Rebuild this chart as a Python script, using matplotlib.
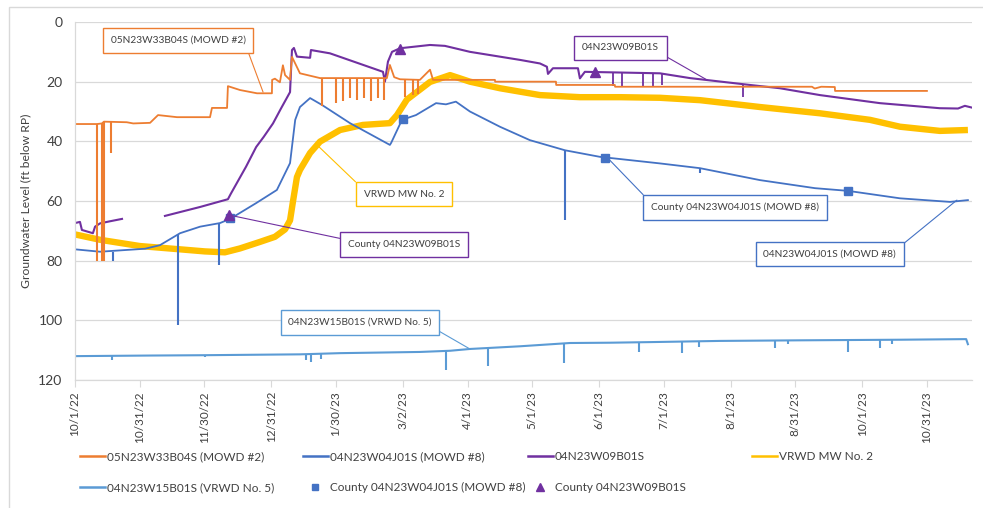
import numpy as np
import matplotlib
matplotlib.use("Agg")
import matplotlib.pyplot as plt
import matplotlib.dates as mdates
from matplotlib.patches import Rectangle
from matplotlib.lines import Line2D

plt.rcParams['font.family'] = ['Lato', 'DejaVu Sans']

# ----------------------------
# DATA  (days since 10/1/22, depth in ft below RP)
# ----------------------------
start = np.datetime64('2022-10-01')

mowd2_days = [0, 10.2, 12.5, 13.4, 24, 27, 34.8, 38.5, 47.3, 62.6, 63.5, 70.5, 70.9, 76.5, 84.4,
              91.3, 91.4, 92.7, 95, 96.4, 97.4, 99.7, 100.6, 102.5, 104.3, 113.6, 144.6, 146,
              148, 150.7, 159.9, 164.6, 166, 194.7, 194.8, 223, 223.1, 250.3, 250.4, 341.7,
              343, 346, 352.3, 352.4, 395]
mowd2_vals = [34.2, 34.2, 34.0, 33.4, 33.6, 34.0, 33.8, 31.2, 31.9, 31.9, 28.8, 28.8, 21.5, 22.8, 23.9,
              23.9, 19.4, 19.0, 20.2, 14.5, 17.8, 19.4, 11.7, 14.5, 17.2, 18.8, 18.8, 14.4,
              18.5, 19.2, 19.4, 16.0, 19.4, 19.4, 20.0, 20.0, 21.1, 21.1, 21.7, 21.7,
              22.3, 21.7, 21.8, 23.1, 23.1]
mowd2_spike_days = [10.4, 12.6, 13.3, 16.7, 114.5, 121, 124.2, 127.5, 130.7, 134, 137.2, 140.5,
                    143.3, 153, 156.7, 159]
mowd2_spike_tops = [34.2, 34.0, 33.4, 33.4, 18.8, 18.8, 18.8, 18.8, 18.8, 18.8, 18.8, 18.8,
                    18.8, 19.2, 19.3, 19.4]
mowd2_spike_bots = [80, 80, 80, 44, 28, 27, 26.5, 25.6, 26.1, 25.6, 26.5, 25.6,
                    26.1, 25, 24.5, 24]

w09_days = [0, 2.3, 3.2, 8.3, 9.3, 11.6, 16.2, 21.8, np.nan,
            41.7, 58, 70.9, 72.3, 79.3, 84, 87.5, 91.8, 95.5, 99.7, 100.6, 101.5, 102.9,
            109, 109.4, 118.2, 142.8, 143.7, 145.1, 147, 150.7, 164.6, 171.5, 183.1, 206.3,
            215.6, 218.8, 219.3, 221.6, 233.2, 234.1, 236.4, 271.2, 285.1, 312.9, 326.8,
            345.4, 373.2, 401, 409.4, 412.6, 415.9]
w09_vals = [67.4, 67.0, 69.7, 70.8, 68.6, 67.5, 66.8, 66.0, np.nan,
            65.0, 62.0, 59.4, 57.5, 48.5, 41.9, 38.5, 34.0, 29.0, 23.5, 9.4, 8.7, 11.6,
            12.0, 9.4, 10.5, 16.7, 20.0, 13.3, 10.0, 8.8, 7.7, 8.0, 10.0, 12.7,
            13.9, 15.0, 17.4, 15.5, 15.5, 18.9, 16.7, 17.2, 18.8, 21.1, 22.2,
            24.5, 27.2, 28.9, 29.0, 28.1, 28.7]
w09_spike_days = [249.4, 253.6, 263.3, 268, 272.1, 309.7]
w09_spike_tops = [17.0, 17.0, 17.1, 17.1, 17.2, 21.0]
w09_spike_bots = [21.5, 21.8, 21.5, 21.8, 21.2, 25.0]

mowd8_days = [0, 11.6, 32.5, 39.4, 48.7, 58, 67.2, 71.9, 84, 93.6, 99.7, 102.1, 104.3, 109,
              114.5, 127.5, 146, 146.6, 151.6, 158.1, 167.4, 172, 176.6, 183.1, 197, 210.9,
              227.2, 243.4, 271.2, 289.8, 317.6, 343.1, 358.4, 382.5, 405.7, 414]
mowd8_vals = [76.2, 77.0, 76.0, 74.8, 70.8, 68.6, 67.4, 66.0, 60.7, 56.3, 47.3, 32.8, 28.5, 25.5,
              27.8, 33.9, 41.2, 40.5, 32.8, 31.2, 27.2, 27.6, 26.7, 30.0, 35.1, 39.6,
              43.0, 45.2, 47.4, 49.0, 53.0, 55.7, 56.6, 59.1, 60.3, 59.7]
mowd8_spike_days = [17.6, 47.8, 66.8, 227.2, 290]
mowd8_spike_tops = [77.0, 71.0, 67.4, 43.0, 49.0]
mowd8_spike_bots = [80.0, 101.6, 81.5, 66.4, 50.5]

mw2_days = [0, 11.6, 30.1, 48.7, 60.3, 69.5, 76.5, 85.8, 92.7, 97.4, 99.7, 101.1, 102.9, 104.3,
            109, 113.6, 122.9, 133.5, 146, 149.3, 153.9, 164.6, 173.9, 183.1, 197, 215.6,
            234.1, 252.7, 271.2, 289.8, 317.6, 345.4, 368.6, 382.5, 401, 414]
mw2_vals = [71.2, 73.0, 75.1, 76.2, 76.9, 77.2, 75.9, 73.7, 72.0, 69.5, 66.5, 60.0, 52.0, 49.6,
            43.9, 40.1, 36.2, 34.5, 33.9, 31.2, 26.0, 20.1, 17.8, 20.0, 22.2, 24.5,
            25.2, 25.2, 25.4, 26.2, 28.5, 30.6, 32.8, 35.1, 36.5, 36.2]

vr5_days = [0, 34.8, 58, 104.3, 122.9, 159.9, 173.9, 183.1, 206.3, 229.5, 248, 266.6, 299,
            336.1, 382.5, 412.6, 413.2, 414]
vr5_vals = [112.0, 111.8, 111.7, 111.4, 111.0, 110.6, 110.2, 109.6, 108.7, 107.6, 107.5, 107.3,
            106.9, 106.7, 106.5, 106.3, 106.3, 108.0]
vr5_spike_days = [17.2, 60.3, 107.1, 109.4, 114.1, 172, 191.5, 226.7, 261.5, 281.4, 289.3,
                  324.5, 330.6, 358.4, 373.2, 378.8]
vr5_spike_tops = [112.0, 111.7, 111.4, 111.4, 111.2, 110.3, 109.5, 107.7, 107.4, 107.2, 107.1,
                  106.8, 106.8, 106.6, 106.5, 106.5]
vr5_spike_bots = [113.3, 112.3, 113.3, 114.0, 113.0, 116.6, 115.3, 114.2, 110.5, 111.0, 109.0,
                  109.2, 108.0, 110.5, 109.2, 107.8]

county_w04_days = [71.9, 152.1, 245.7, 358.4]
county_w04_vals = [65.8, 32.6, 45.5, 56.6]
county_w09_days = [71.4, 150.7, 241.0]
county_w09_vals = [64.7, 9.0, 16.7]

tick_dates = ['2022-10-01', '2022-10-31', '2022-11-30', '2022-12-31', '2023-01-30', '2023-03-02',
              '2023-04-01', '2023-05-01', '2023-06-01', '2023-07-01', '2023-08-01', '2023-08-31',
              '2023-10-01', '2023-10-31']
tick_labels = ['10/1/22', '10/31/22', '11/30/22', '12/31/22', '1/30/23', '3/2/23', '4/1/23',
               '5/1/23', '6/1/23', '7/1/23', '8/1/23', '8/31/23', '10/1/23', '10/31/23']

# colours
C_ORANGE = '#ED7D31'
C_BLUE = '#4472C4'
C_PURPLE = '#7030A0'
C_GOLD = '#FFC000'
C_LBLUE = '#5B9BD5'

t0 = mdates.date2num(start)


def xd(days):
    return t0 + np.asarray(days, dtype=float)


# ----------------------------
# PLOT
# ----------------------------
fig = plt.figure(figsize=(9.83, 5.08), dpi=100)
ax = fig.add_axes([75 / 983, 1 - 380 / 508, (972 - 75) / 983, (380 - 22) / 508])

ax.plot(xd(vr5_days), vr5_vals, color=C_LBLUE, lw=1.5)
ax.vlines(xd(vr5_spike_days), vr5_spike_tops, vr5_spike_bots, color=C_LBLUE, lw=1.5)

ax.plot(xd(mw2_days), mw2_vals, color=C_GOLD, lw=4.6, solid_capstyle='butt')

ax.plot(xd(mowd8_days), mowd8_vals, color=C_BLUE, lw=1.3)
ax.vlines(xd(mowd8_spike_days), mowd8_spike_tops, mowd8_spike_bots, color=C_BLUE, lw=1.5)

ax.plot(xd(w09_days), w09_vals, color=C_PURPLE, lw=1.5)
ax.vlines(xd(w09_spike_days), w09_spike_tops, w09_spike_bots, color=C_PURPLE, lw=1.3)

ax.plot(xd(mowd2_days), mowd2_vals, color=C_ORANGE, lw=1.3)
ax.vlines(xd(mowd2_spike_days), mowd2_spike_tops, mowd2_spike_bots, color=C_ORANGE, lw=1.5)

ax.plot(xd(county_w04_days), county_w04_vals, ls='none', marker='s', ms=6, color=C_BLUE)
ax.plot(xd(county_w09_days), county_w09_vals, ls='none', marker='^', ms=7, color=C_PURPLE)

# axes styling
ax.set_ylim(120, 0)
ax.set_xlim(t0, t0 + 415.9)
ax.set_yticks(range(0, 121, 20))
ax.grid(axis='y', color='#D9D9D9', lw=0.9)
ax.set_axisbelow(True)
for s in ['top', 'right']:
    ax.spines[s].set_visible(False)
for s in ['left', 'bottom']:
    ax.spines[s].set_color('#D9D9D9')
    ax.spines[s].set_linewidth(0.9)
ax.tick_params(axis='y', length=0, pad=9, labelsize=10, labelcolor='#404040')
ax.set_xticks([mdates.date2num(np.datetime64(d)) for d in tick_dates])
ax.set_xticklabels(tick_labels, rotation=90, fontsize=8.5, color='#404040')
ax.tick_params(axis='x', length=5, color='#D9D9D9', pad=3)
ax.set_ylabel('Groundwater Level (ft below RP)', fontsize=8.7, color='#404040')
ax.yaxis.set_label_coords(-0.049, 0.5)


# callout labels
def callout(text, box_day, box_val, pt_day, pt_val, color, relpos):
    ax.annotate(text, xy=(xd(pt_day), pt_val), xytext=(xd(box_day), box_val),
                ha='center', va='center', fontsize=7.3, color='#404040',
                bbox=dict(boxstyle='square,pad=0.75', fc='white', ec=color, lw=1),
                arrowprops=dict(arrowstyle='-', color=color, lw=0.8, relpos=relpos,
                                shrinkA=0, shrinkB=0))


callout('05N23W33B04S (MOWD #2)', 47.8, 6.2, 87.2, 23.5, C_ORANGE, (1, 0))
callout('04N23W09B01S', 252.9, 8.7, 293, 19.4, C_PURPLE, (1, 0))
callout('VRWD MW No. 2', 152.5, 57.7, 112.2, 41.2, C_GOLD, (0, 1))
callout('County 04N23W09B01S', 152.5, 74.6, 71.4, 64.7, C_PURPLE, (0, 1))
callout('County 04N23W04J01S (MOWD #8)', 306, 62.2, 246.6, 45.3, C_BLUE, (0, 1))
callout('04N23W04J01S (MOWD #8)', 350, 77.8, 408.9, 59.7, C_BLUE, (1, 1))
callout('04N23W15B01S (VRWD No. 5)', 132.1, 100.7, 183.1, 109.6, C_LBLUE, (1, 0))

# legend, one column at a time
h_mowd2 = Line2D([], [], color=C_ORANGE, lw=1.8)
h_mowd8 = Line2D([], [], color=C_BLUE, lw=1.8)
h_w09 = Line2D([], [], color=C_PURPLE, lw=1.8)
h_mw2 = Line2D([], [], color=C_GOLD, lw=1.8)
h_vr5 = Line2D([], [], color=C_LBLUE, lw=1.8)
h_cw04 = Line2D([], [], ls='none', marker='s', ms=5, color=C_BLUE)
h_cw09 = Line2D([], [], ls='none', marker='^', ms=6, color=C_PURPLE)

columns = [
    (80, [h_mowd2, h_vr5], ['05N23W33B04S (MOWD #2)', '04N23W15B01S (VRWD No. 5)']),
    (303, [h_mowd8, h_cw04], ['04N23W04J01S (MOWD #8)', 'County 04N23W04J01S (MOWD #8)']),
    (528, [h_w09, h_cw09], ['04N23W09B01S', 'County 04N23W09B01S']),
    (752, [h_mw2], ['VRWD MW No. 2']),
]
for xpix, handles, labels in columns:
    fig.legend(handles, labels, loc='upper left', bbox_to_anchor=(xpix / 983, 1 - 451 / 508),
               frameon=False, fontsize=8.5, handlelength=2.1, handletextpad=0.15,
               labelspacing=1.7, borderpad=0, borderaxespad=0, labelcolor='#404040')

# outer chart frame
fig.patches.append(Rectangle((9 / 983, -0.1), 1.5, (508 - 7) / 508 + 0.1,
                             transform=fig.transFigure, fill=False, ec='#D9D9D9', lw=1))

fig.savefig('out.png', dpi=100)
